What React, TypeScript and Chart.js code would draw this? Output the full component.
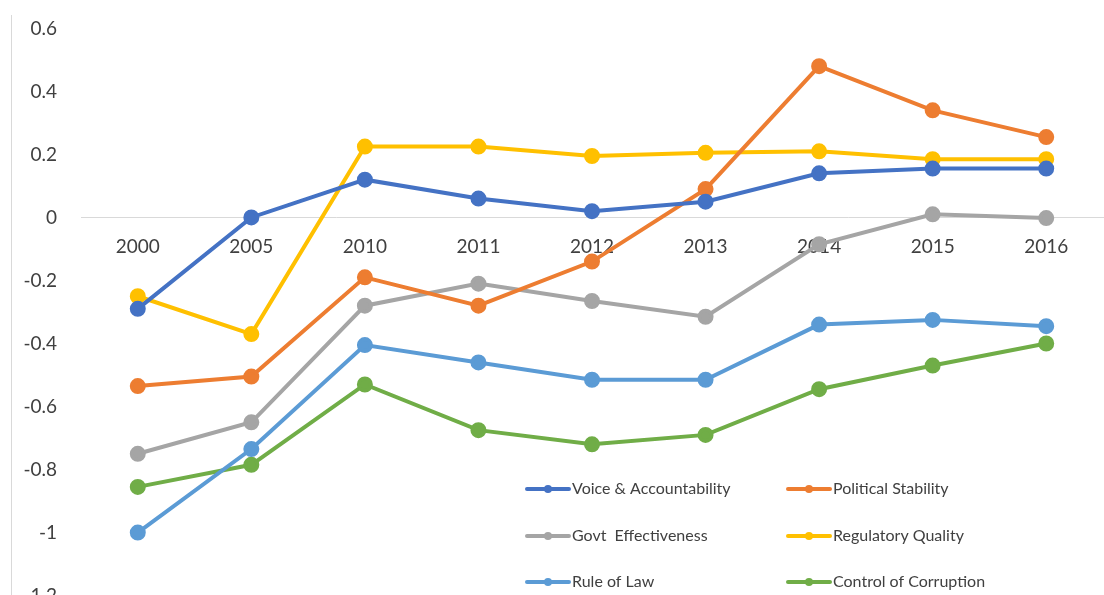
import React, { useEffect, useRef } from "react";
import { Chart, registerables } from "chart.js";

Chart.register(...registerables);

const years = ["2000", "2005", "2010", "2011", "2012", "2013", "2014", "2015", "2016"];
const voiceAccountability = [-0.29, 0.0, 0.12, 0.06, 0.02, 0.05, 0.14, 0.155, 0.155];
const politicalStability = [-0.535, -0.505, -0.19, -0.28, -0.14, 0.09, 0.48, 0.34, 0.255];
const govtEffectiveness = [-0.75, -0.65, -0.28, -0.21, -0.265, -0.315, -0.085, 0.01, -0.002];
const regulatoryQuality = [-0.25, -0.37, 0.225, 0.225, 0.195, 0.205, 0.21, 0.185, 0.185];
const ruleOfLaw = [-1.0, -0.735, -0.405, -0.46, -0.515, -0.515, -0.34, -0.325, -0.345];
const controlOfCorruption = [-0.855, -0.785, -0.53, -0.675, -0.72, -0.69, -0.545, -0.47, -0.4];

const seriesNames = [
  "Voice & Accountability",
  "Political Stability",
  "Govt  Effectiveness",
  "Regulatory Quality",
  "Rule of Law",
  "Control of Corruption",
];
const seriesColors = ["#4472C4", "#ED7D31", "#A5A5A5", "#FFC000", "#5B9BD5", "#70AD47"];
const seriesValues = [
  voiceAccountability,
  politicalStability,
  govtEffectiveness,
  regulatoryQuality,
  ruleOfLaw,
  controlOfCorruption,
];

const FONT = "Lato, 'Open Sans', sans-serif";
const TEXT_COLOR = "#404040";
const CANVAS_SHIFT = 7;

const legendPlugin = {
  id: "gridLegend",
  afterDraw(chart: any) {
    const ctx = chart.ctx;
    const colX = [527, 788];
    const rowY = [489 + CANVAS_SHIFT, 536 + CANVAS_SHIFT, 582 + CANVAS_SHIFT];
    ctx.save();
    ctx.font = `16px ${FONT}`;
    ctx.textBaseline = "middle";
    ctx.textAlign = "left";
    chart.data.datasets.forEach((ds: any, i: number) => {
      const x = colX[i % 2];
      const y = rowY[Math.floor(i / 2)];
      ctx.strokeStyle = ds.borderColor;
      ctx.lineWidth = 4;
      ctx.lineCap = "round";
      ctx.beginPath();
      ctx.moveTo(x, y);
      ctx.lineTo(x + 42, y);
      ctx.stroke();
      ctx.fillStyle = ds.borderColor;
      ctx.beginPath();
      ctx.arc(x + 21, y, 4, 0, Math.PI * 2);
      ctx.fill();
      ctx.fillStyle = TEXT_COLOR;
      ctx.fillText(ds.label, x + 45, y);
    });
    ctx.restore();
  },
};

export default function App() {
  const ref = useRef<HTMLCanvasElement | null>(null);
  useEffect(() => {
    if (!ref.current) return;
    const chart = new Chart(ref.current, {
      type: "line",
      data: {
        labels: years,
        datasets: seriesValues.map((vals, i) => ({
          label: seriesNames[i],
          data: vals,
          borderColor: seriesColors[i],
          backgroundColor: seriesColors[i],
          borderWidth: 4,
          pointRadius: 6,
          pointHoverRadius: 6,
          pointBackgroundColor: seriesColors[i],
          pointBorderColor: seriesColors[i],
          tension: 0,
          fill: false,
        })),
      },
      options: {
        animation: false,
        responsive: false,
        devicePixelRatio: 1,
        layout: { padding: { top: 22, bottom: 12, left: 0, right: 0 } },
        plugins: { legend: { display: false }, tooltip: { enabled: false } },
        scales: {
          x: {
            type: "category",
            offset: true,
            position: { y: 0 } as any,
            grid: { display: false, drawTicks: false },
            border: { display: true, color: "#d9d9d9", width: 1 },
            ticks: {
              padding: 18,
              color: TEXT_COLOR,
              font: { family: FONT, size: 19 },
              maxRotation: 0,
              autoSkip: false,
            },
          },
          y: {
            min: -1.2,
            max: 0.6,
            grid: { display: false, drawTicks: false },
            border: { display: false },
            afterFit: (scale: any) => {
              scale.width = 81;
            },
            ticks: {
              stepSize: 0.2,
              padding: 24,
              color: TEXT_COLOR,
              font: { family: FONT, size: 19 },
              callback: (v: any) => String(Number(Number(v).toFixed(1))),
            },
          },
        },
      },
      plugins: [legendPlugin],
    });
    return () => chart.destroy();
  }, []);

  return (
    <div
      style={{
        position: "fixed",
        left: 0,
        top: 0,
        width: 1104,
        height: 595,
        overflow: "hidden",
        background: "#fff",
      }}
    >
      <canvas
        ref={ref}
        width={1113}
        height={638}
        style={{ display: "block", position: "absolute", left: 0, top: -CANVAS_SHIFT }}
      />
      <div
        style={{
          position: "absolute",
          left: 11,
          top: 15,
          width: 0,
          height: 600,
          borderLeft: "1px solid #d9d9d9",
        }}
      />
    </div>
  );
}
